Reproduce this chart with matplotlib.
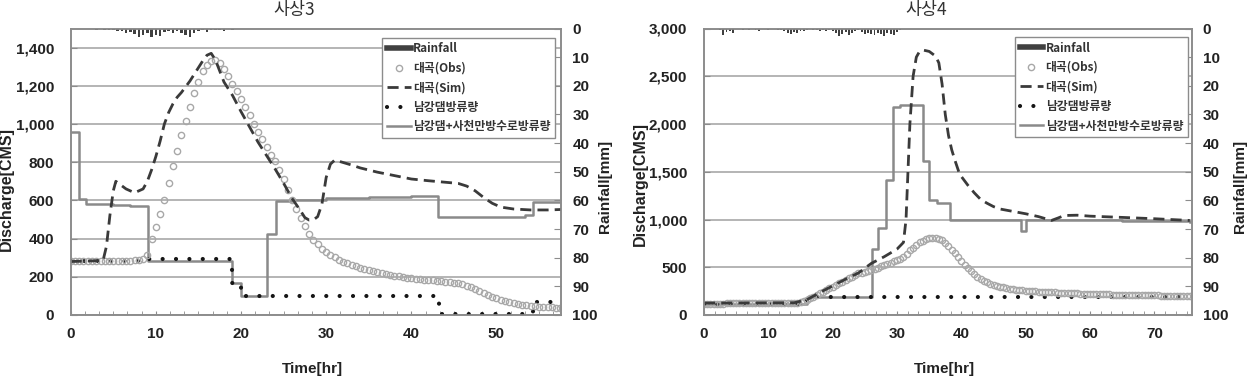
"""Two flood events (사상3, 사상4): observed vs simulated discharge at 대곡 with dam releases and rainfall."""

import numpy as np
import matplotlib

matplotlib.use("Agg")
import matplotlib.pyplot as plt
from matplotlib.lines import Line2D
from matplotlib.ticker import MultipleLocator, FuncFormatter

plt.rcParams["font.family"] = ["Liberation Sans", "Noto Sans CJK KR", "DejaVu Sans"]

KR = ["Noto Sans CJK KR", "DejaVu Sans"]

# ---------------------------------------------------------------- event 3 (사상3)
titles = ["사상3", "사상4"]
legend_labels = ["Rainfall", "대곡(Obs)", "대곡(Sim)", "남강댐방류량", "남강댐+사천만방수로방류량"]

# rainfall [mm], half-hourly from 2.5 hr
rain3_start = 2.5
rain3 = [0.3, 0.4, 0.3, 0.5, 0.6, 0.4, 0.8, 1.0, 1.4, 1.2, 1.8, 3.0, 2.4, 1.6, 2.8,
         2.2, 2.6, 1.2, 1.0, 1.4, 0.9, 1.6, 2.4, 2.8, 1.5, 0.8, 0.6, 1.1, 0.5, 0.6,
         0.4, 0.7, 0.3, 0.4]

# observed discharge at 대곡 [CMS], half-hourly from 0 hr
obs3 = [285, 285, 285, 284, 284, 283, 283, 282, 282, 282, 282, 283, 283, 284, 285, 286,
        288, 295, 315, 400, 460, 530, 600, 690, 780, 860, 940, 1015, 1090, 1160, 1220, 1275,
        1310, 1330, 1335, 1318, 1290, 1252, 1212, 1172, 1130, 1088, 1045, 1002, 960, 920, 880, 840,
        805, 760, 710, 655, 600, 555, 510, 465, 425, 395, 370, 348, 330, 315, 302, 290,
        280, 271, 262, 255, 248, 242, 236, 231, 226, 221, 217, 212, 206, 202, 198, 195,
        192, 190, 187, 185, 183, 181, 179, 177, 175, 173, 170, 166, 160, 153, 145, 135,
        125, 115, 105, 96, 88, 81, 74, 68, 62, 58, 54, 51, 48, 46, 44, 42,
        41, 40, 39, 38, 38]

# simulated discharge at 대곡 [CMS]
sim3_t = [0, 3.8, 4.2, 4.6, 5.0, 5.3, 5.6, 6.5, 7.5, 8.5, 9.0, 9.5, 10.0, 10.5, 11.0, 11.5,
          12.0, 12.5, 13.0, 13.5, 14.0, 14.5, 15.0, 15.5, 16.0, 16.5, 17.0, 18.0, 19.0, 20.0,
          21.0, 22.0, 23.0, 24.0, 25.0, 26.0, 27.0, 27.5, 28.0, 28.5, 29.0, 29.5, 30.0, 30.5,
          31.0, 31.5, 33.0, 34.0, 36.0, 38.0, 40.0, 42.0, 44.0, 45.5, 46.5, 47.5, 48.5, 49.5,
          50.5, 52.0, 54.0, 56.0, 58.0]
sim3_q = [280, 285, 360, 520, 650, 700, 690, 660, 640, 660, 700, 760, 830, 910, 1000, 1060,
          1105, 1140, 1165, 1195, 1225, 1260, 1295, 1330, 1360, 1370, 1335, 1220, 1150, 1065,
          985, 905, 835, 765, 690, 610, 545, 510, 497, 498, 515, 580, 720, 790,
          811, 805, 785, 770, 748, 730, 712, 703, 695, 689, 675, 650, 615, 585,
          565, 555, 550, 550, 553]

# 남강댐 release [CMS], step series
dam3_t = [0, 9.0, 19.0, 20.0, 43.3, 54.3, 58.0]
dam3_q = [282, 295, 170, 100, 4, 70, 70]

# 남강댐 + 사천만 spillway release [CMS], step series
tot3_t = [0, 1.0, 1.8, 5.0, 7.0, 9.1, 19.0, 20.0, 23.1, 24.1, 26.0, 30.0, 35.0, 40.0, 43.1,
          53.3, 54.3, 58.0]
tot3_q = [960, 605, 582, 578, 572, 283, 168, 100, 425, 595, 600, 612, 618, 622, 515,
          525, 592, 592]

# ---------------------------------------------------------------- event 4 (사상4)
rain4_start = 2.5
rain4 = [0.5, 2.4, 1.2, 0.8, 1.5, 0.3, 0.2, 0.5, 0.3, 0.6, 0.2, 0.4, 0.8, 0.3, 0.2, 0.5,
         0.3, 0.2, 0.4, 0.6, 1.0, 1.4, 1.8, 1.2, 1.6, 1.0, 0.8, 0.5, 0.3, 0.6, 0.4, 0.9,
         0.5, 0.7, 0.4, 1.0, 1.4, 2.6, 1.8, 1.2, 2.2, 1.6, 1.0, 0.6, 1.3, 2.0, 1.5, 1.8,
         2.4, 1.6, 2.0, 2.6, 1.4, 1.9, 2.2, 1.2, 0.5]

obs4 = [118, 118, 119, 119, 120, 120, 120, 121, 121, 121, 122, 122, 122, 123, 123, 123,
        124, 124, 124, 125, 125, 125, 126, 126, 126, 127, 127, 128, 128, 129, 135, 145,
        157, 174, 192, 210, 227, 244, 262, 279, 296, 314, 331, 349, 366, 384, 401, 419,
        436, 445, 454, 462, 471, 484, 497, 510, 523, 536, 549, 562, 575, 590, 610, 640,
        680, 700, 735, 760, 780, 795, 802, 805, 805, 800, 785, 755, 720, 685, 645, 605,
        565, 525, 490, 458, 428, 402, 380, 360, 343, 328, 315, 305, 296, 288, 281, 275,
        269, 265, 261, 258, 255, 252, 250, 248, 246, 244, 242, 240, 238, 236, 234, 233,
        231, 230, 228, 227, 226, 224, 223, 221, 220, 219, 218, 218, 217, 216, 215, 214,
        214, 213, 212, 211, 211, 210, 209, 208, 208, 207, 206, 206, 205, 205, 204, 204,
        203, 203, 203, 202, 202, 202, 202, 202]

sim4_t = [0, 14.0, 16.0, 18.0, 20.0, 22.0, 24.0, 26.0, 28.0, 30.0, 31.0, 31.4, 32.0, 32.5,
          33.0, 33.5, 34.0, 35.0, 36.0, 36.5, 37.0, 37.5, 38.0, 38.5, 39.0, 39.6, 40.0, 41.0,
          42.0, 43.0, 44.0, 45.0, 46.0, 48.0, 50.0, 52.0, 54.0, 55.0, 56.0, 58.0, 60.0, 65.0,
          70.0, 75.5]
sim4_q = [125, 128, 160, 235, 305, 375, 440, 540, 610, 690, 760, 1000, 2000, 2500,
          2700, 2760, 2775, 2760, 2710, 2640, 2420, 2100, 1880, 1730, 1620, 1500, 1450, 1360,
          1280, 1210, 1170, 1135, 1110, 1085, 1060, 1030, 990, 1015, 1042, 1045, 1035, 1022,
          1008, 990]

dam4_t = [0, 16.0, 26.5, 75.5]
dam4_q = [120, 190, 185, 185]

tot4_t = [0, 16.0, 26.1, 27.0, 28.3, 29.4, 30.5, 34.1, 34.9, 36.2, 38.2, 45.0, 49.0, 49.3,
          50.0, 55.0, 65.0, 75.5]
tot4_q = [120, 190, 690, 910, 1410, 2180, 2200, 1610, 1200, 1170, 1000, 995, 990, 880,
          1000, 995, 985, 975]

GRAY = "#8c8c8c"
TXT = "#222222"


def draw_event(ax, title, xmax, ymax, ystep, rain_start, rain, obs, sim_t, sim_q,
               dam_t, dam_q, tot_t, tot_q, legend_anchor, rain_label_x, label_y):
    rain_t = rain_start + 0.5 * np.arange(len(rain))
    obs_t = 0.5 * np.arange(len(obs))

    ax.plot(tot_t, tot_q, drawstyle="steps-post", color="#8a8a8a", lw=1.8, zorder=2)
    ax.plot(dam_t, dam_q, drawstyle="steps-post", color="#151515", lw=3,
            linestyle=(0, (0.01, 3.2)), dash_capstyle="round", zorder=3)
    ax.plot(obs_t, obs, linestyle="none", marker="o", ms=4.5, mfc="none",
            mec="#a8a8a8", mew=1.0, zorder=4)
    ax.plot(sim_t, sim_q, color="#3a3a3a", lw=2, dashes=(4, 2.2), zorder=5)

    ax.set_xlim(0, xmax)
    ax.set_ylim(0, ymax)
    ax.yaxis.set_major_locator(MultipleLocator(ystep))
    ax.yaxis.set_major_formatter(FuncFormatter(lambda v, p: f"{v:,.0f}"))
    ax.xaxis.set_major_locator(MultipleLocator(10))
    ax.xaxis.set_minor_locator(MultipleLocator(10 / 6))
    ax.yaxis.grid(True, color="#a8a8a8", lw=1.2)
    ax.set_axisbelow(True)
    for s in ax.spines.values():
        s.set_color(GRAY)
        s.set_linewidth(1.2)
    ax.tick_params(axis="x", which="both", direction="in", length=3, color=GRAY,
                   labelsize=11, pad=9, labelcolor=TXT)
    ax.tick_params(axis="y", direction="in", length=4, color=GRAY, labelsize=11,
                   pad=12, labelcolor=TXT)
    for lab in ax.get_xticklabels() + ax.get_yticklabels():
        lab.set_fontweight("bold")
    ax.set_xlabel("Time[hr]", fontsize=11, fontweight="bold", color=TXT)
    ax.xaxis.set_label_coords(0.492, -0.165)
    ax.set_ylabel("Discharge[CMS]", fontsize=11.5, fontweight="bold", color=TXT)
    ax.yaxis.set_label_coords(-0.115, label_y)
    ax.text(0.456, 1.065, title, transform=ax.transAxes, ha="center", va="center",
            fontsize=12.5, family=KR, color="#333333")

    # rainfall hangs from the top on an inverted secondary axis
    ax2 = ax.twinx()
    ax2.bar(rain_t, rain, width=0.3, color="#404040", zorder=1)
    ax2.set_ylim(100, 0)
    ax2.yaxis.set_major_locator(MultipleLocator(10))
    ax2.tick_params(axis="y", direction="in", length=5, color=GRAY, labelsize=11,
                    pad=8, labelcolor=TXT)
    for lab in ax2.get_yticklabels():
        lab.set_fontweight("bold")
    for s in ax2.spines.values():
        s.set_color(GRAY)
        s.set_linewidth(1.2)
    ax2.set_ylabel("Rainfall[mm]", fontsize=11, fontweight="bold", color=TXT)
    ax2.yaxis.set_label_coords(rain_label_x, 0.45)

    handles = [
        Line2D([], [], color="#404040", lw=4),
        Line2D([], [], linestyle="none", marker="o", ms=4.5, mfc="none", mec="#a8a8a8", mew=1.0),
        Line2D([], [], color="#3a3a3a", lw=2, dashes=(4, 2.2)),
        Line2D([], [], color="#151515", lw=3, linestyle=(0, (0.01, 3.2)), dash_capstyle="round"),
        Line2D([], [], color="#8a8a8a", lw=1.8),
    ]
    leg = ax2.legend(handles, legend_labels, loc="upper right",
                     bbox_to_anchor=legend_anchor, fancybox=False, framealpha=1,
                     edgecolor=GRAY, handlelength=2.0, handletextpad=0.2,
                     labelspacing=0.55, borderpad=0.4, borderaxespad=0,
                     prop={"family": KR, "size": 8.5, "weight": "bold"})
    leg.get_frame().set_linewidth(1.0)
    for t in leg.get_texts():
        t.set_color("#333333")
    return ax2


fig = plt.figure(figsize=(12.48, 3.81), dpi=100)
ax_a = fig.add_axes([70.7 / 1248, 66 / 381, 490.5 / 1248, 286.5 / 381])
ax_b = fig.add_axes([704 / 1248, 66 / 381, 487.7 / 1248, 286.5 / 381])

draw_event(ax_a, titles[0], 57.6, 1500, 200, rain3_start, rain3, obs3, sim3_t, sim3_q,
           dam3_t, dam3_q, tot3_t, tot3_q, (0.988, 0.968), 1.075, 0.44)
draw_event(ax_b, titles[1], 75.8, 3000, 500, rain4_start, rain4, obs4, sim4_t, sim4_q,
           dam4_t, dam4_q, tot4_t, tot4_q, (0.992, 0.971), 1.085, 0.457)

fig.savefig("out.png", dpi=100)
